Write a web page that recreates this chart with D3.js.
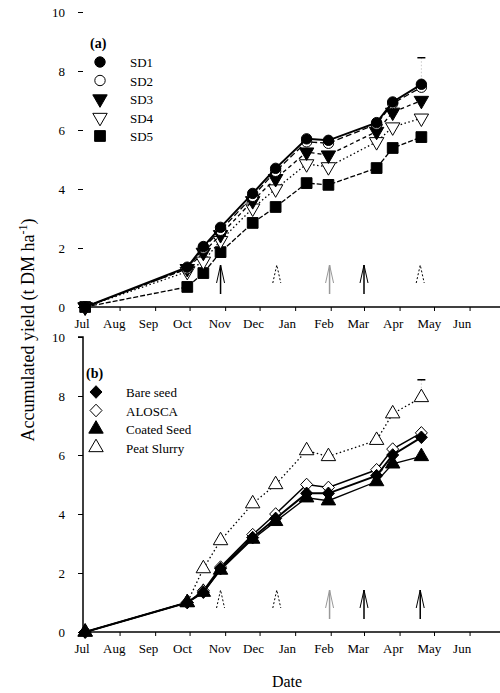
<!DOCTYPE html>
<html>
<head>
<meta charset="utf-8">
<script src="https://cdn.jsdelivr.net/npm/d3@7"></script>
<style>
  body { margin: 0; background: #fff; }
  svg { font-family: "Liberation Serif", "DejaVu Serif", serif; }
</style>
</head>
<body>
<svg id="chart" width="500" height="693"></svg>
<script>
// Harvest dates shared by both panels
const harvestDates = ['2011-07-02', '2011-09-29', '2011-10-13', '2011-10-28', '2011-11-25',
  '2011-12-15', '2012-01-11', '2012-01-30', '2012-03-12', '2012-03-26', '2012-04-20'];

// Panel (a): sowing dates
const sd1 = [0, 1.35, 2.05, 2.7, 3.85, 4.7, 5.7, 5.65, 6.25, 6.95, 7.55];
const sd2 = [0, 1.3, 2.0, 2.6, 3.75, 4.6, 5.6, 5.55, 6.2, 6.9, 7.45];
const sd3 = [0, 1.3, 1.85, 2.45, 3.6, 4.35, 5.25, 5.15, 5.95, 6.6, 7.0];
const sd4 = [0, 1.2, 1.55, 2.25, 3.35, 4.0, 4.85, 4.75, 5.6, 6.1, 6.4];
const sd5 = [0, 0.68, 1.15, 1.86, 2.85, 3.39, 4.2, 4.14, 4.71, 5.39, 5.76];

// Panel (b): inoculation methods
const bareSeed = [0, 1.0, 1.35, 2.15, 3.2, 3.85, 4.7, 4.7, 5.3, 6.0, 6.6];
const alosca = [0, 1.0, 1.4, 2.2, 3.3, 4.0, 5.0, 4.9, 5.5, 6.2, 6.75];
const coatedSeed = [0, 1.0, 1.35, 2.1, 3.15, 3.75, 4.55, 4.45, 5.1, 5.7, 5.95];
const peatSlurry = [0, 1.0, 2.15, 3.1, 4.35, 5.0, 6.15, 5.95, 6.5, 7.4, 7.95];

// LSD bars (date, top, bottom)
const lsdA = ['2012-04-20', 8.45, 7.55];
const lsdB = ['2012-04-20', 8.55, 7.95];

// Arrows (dates and style per panel)
const arrowDates = ['2011-10-28', '2011-12-16', '2012-01-31', '2012-03-01', '2012-04-19'];
const arrowStyleA = ['solid', 'head', 'grey', 'solid', 'head'];
const arrowStyleB = ['head', 'head', 'grey', 'solid', 'solid'];

const monthLabels = ['Jul', 'Aug', 'Sep', 'Oct', 'Nov', 'Dec', 'Jan', 'Feb', 'Mar', 'Apr', 'May', 'Jun'];
const yTicks = [0, 2, 4, 6, 8, 10];

const parse = d3.timeParse('%Y-%m-%d');
const svg = d3.select('#chart');

const x = d3.scaleTime()
  .domain([new Date(2011, 6, 1), new Date(2012, 6, 1)])
  .range([84, 504]);

const monthTicks = d3.timeMonth.range(new Date(2011, 6, 1), new Date(2012, 6, 1));

// wider diamond than d3's default
const diamond = {
  draw(ctx, size) {
    const r = Math.sqrt(size / 2) * 0.85;
    ctx.moveTo(0, -r);
    ctx.lineTo(r * 0.95, 0);
    ctx.lineTo(0, r);
    ctx.lineTo(-r * 0.95, 0);
    ctx.closePath();
  }
};

function drawPanel(opts) {
  const y = d3.scaleLinear().domain([0, 10]).range([opts.y0, opts.y0 - 295]);
  const g = svg.append('g');

  // y axis
  const yAxis = g.append('g')
    .attr('transform', 'translate(83,0)')
    .call(d3.axisLeft(y).tickValues(yTicks).tickSize(5).tickPadding(13).tickFormat(d3.format('d')));
  yAxis.selectAll('text').style('font-size', '13px').style('font-family', 'Liberation Serif');
  yAxis.select('.domain').attr('stroke-width', 1.5).attr('d', `M-5,${y(10)}H0V${y(0)}`);
  if (!opts.showYLine) yAxis.select('.domain').remove();

  // x axis
  const xAxis = g.append('g')
    .attr('transform', `translate(0,${opts.y0})`)
    .call(d3.axisBottom(x).tickValues(monthTicks).tickSize(4).tickPadding(8)
      .tickFormat((d, i) => monthLabels[i]));
  xAxis.select('.domain').attr('stroke-width', 1.5).attr('d', `M80,0H500`);
  xAxis.selectAll('text')
    .style('font-size', '13px')
    .style('font-family', 'Liberation Serif')
    .attr('text-anchor', 'start')
    .attr('dx', (d, i) => i === 0 ? -10 : -17);

  // arrows
  arrowDates.forEach((d, i) => {
    const ax = x(parse(d));
    const style = opts.arrows[i];
    const top = opts.y0 - 42;
    const col = style === 'grey' ? '#999' : '#000';
    if (style !== 'head') {
      g.append('line')
        .attr('x1', ax).attr('x2', ax)
        .attr('y1', opts.y0 - 13).attr('y2', top)
        .attr('stroke', col).attr('stroke-width', 1.5);
    }
    g.append('path')
      .attr('d', `M${ax - 4},${top + 18}L${ax},${top}L${ax + 4},${top + 18}`)
      .attr('fill', 'none')
      .attr('stroke', col)
      .attr('stroke-width', 1)
      .attr('stroke-dasharray', style === 'head' ? '2,2' : null);
  });

  // LSD bar
  const lx = x(parse(opts.lsd[0]));
  g.append('line').attr('x1', lx).attr('x2', lx)
    .attr('y1', y(opts.lsd[1])).attr('y2', y(opts.lsd[2]))
    .attr('stroke', '#bbb').attr('stroke-width', 0.8).attr('stroke-dasharray', '1.5,2');
  g.append('line').attr('x1', lx - 4).attr('x2', lx + 4)
    .attr('y1', y(opts.lsd[1])).attr('y2', y(opts.lsd[1]))
    .attr('stroke', '#000').attr('stroke-width', 1.5);

  const line = d3.line()
    .x((d, i) => x(parse(harvestDates[i])))
    .y(d => y(d));

  // series drawn from lowest to top
  opts.series.slice().reverse().forEach(s => {
    g.append('path')
      .datum(s.values)
      .attr('d', line)
      .attr('fill', 'none')
      .attr('stroke', '#000')
      .attr('stroke-width', s.width || 1.3)
      .attr('stroke-dasharray', s.dash);
    g.selectAll(null)
      .data(s.values)
      .enter()
      .append('path')
      .attr('d', d3.symbol().type(s.symbol).size(s.size))
      .attr('transform', (d, i) => `translate(${x(parse(harvestDates[i]))},${y(d)}) rotate(${s.rotate || 0})`)
      .attr('fill', s.filled ? '#000' : '#fff')
      .attr('stroke', '#000')
      .attr('stroke-width', 1);
  });

  // legend
  g.append('text')
    .attr('x', opts.legend.x - 10)
    .attr('y', opts.legend.y - 14)
    .style('font-size', '14px')
    .style('font-weight', 'bold')
    .text(opts.label);
  opts.series.forEach((s, i) => {
    const ly = opts.legend.y + i * 18.5;
    g.append('path')
      .attr('d', d3.symbol().type(s.symbol).size(s.size))
      .attr('transform', `translate(${opts.legend.x},${ly}) rotate(${s.rotate || 0})`)
      .attr('fill', s.filled ? '#000' : '#fff')
      .attr('stroke', '#000')
      .attr('stroke-width', 1);
    g.append('text')
      .attr('x', opts.legend.x + 30)
      .attr('y', ly + 5)
      .style('font-size', '13px')
      .text(s.name);
  });
}

drawPanel({
  y0: 307,
  showYLine: false,
  label: '(a)',
  legend: { x: 100, y: 62 },
  arrows: arrowStyleA,
  lsd: lsdA,
  series: [
    { name: 'SD1', values: sd1, symbol: d3.symbolCircle, size: 85, filled: true, width: 2 },
    { name: 'SD2', values: sd2, symbol: d3.symbolCircle, size: 85, filled: false, dash: '6,3' },
    { name: 'SD3', values: sd3, symbol: d3.symbolTriangle, size: 90, filled: true, rotate: 180, dash: '4,3' },
    { name: 'SD4', values: sd4, symbol: d3.symbolTriangle, size: 90, filled: false, rotate: 180, dash: '1.5,2.5' },
    { name: 'SD5', values: sd5, symbol: d3.symbolSquare, size: 115, filled: true, dash: '5,2' }
  ]
});

drawPanel({
  y0: 632,
  showYLine: true,
  label: '(b)',
  legend: { x: 96, y: 392 },
  arrows: arrowStyleB,
  lsd: lsdB,
  series: [
    { name: 'Bare seed', values: bareSeed, symbol: diamond, size: 110, filled: true, width: 2 },
    { name: 'ALOSCA', values: alosca, symbol: diamond, size: 110, filled: false, width: 1.5 },
    { name: 'Coated Seed', values: coatedSeed, symbol: d3.symbolTriangle, size: 90, filled: true },
    { name: 'Peat Slurry', values: peatSlurry, symbol: d3.symbolTriangle, size: 90, filled: false, dash: '1.5,2.5' }
  ]
});

// axis titles
const yTitle = svg.append('text')
  .attr('transform', 'translate(34,330) rotate(-90)')
  .attr('text-anchor', 'middle')
  .style('font-size', '18px');
yTitle.append('tspan').text('Accumulated yield (t DM ha');
yTitle.append('tspan').attr('dy', -7).style('font-size', '12px').text('-1');
yTitle.append('tspan').attr('dy', 7).text(')');

svg.append('text')
  .attr('x', 287)
  .attr('y', 687)
  .attr('text-anchor', 'middle')
  .style('font-size', '16px')
  .text('Date');
</script>
</body>
</html>
